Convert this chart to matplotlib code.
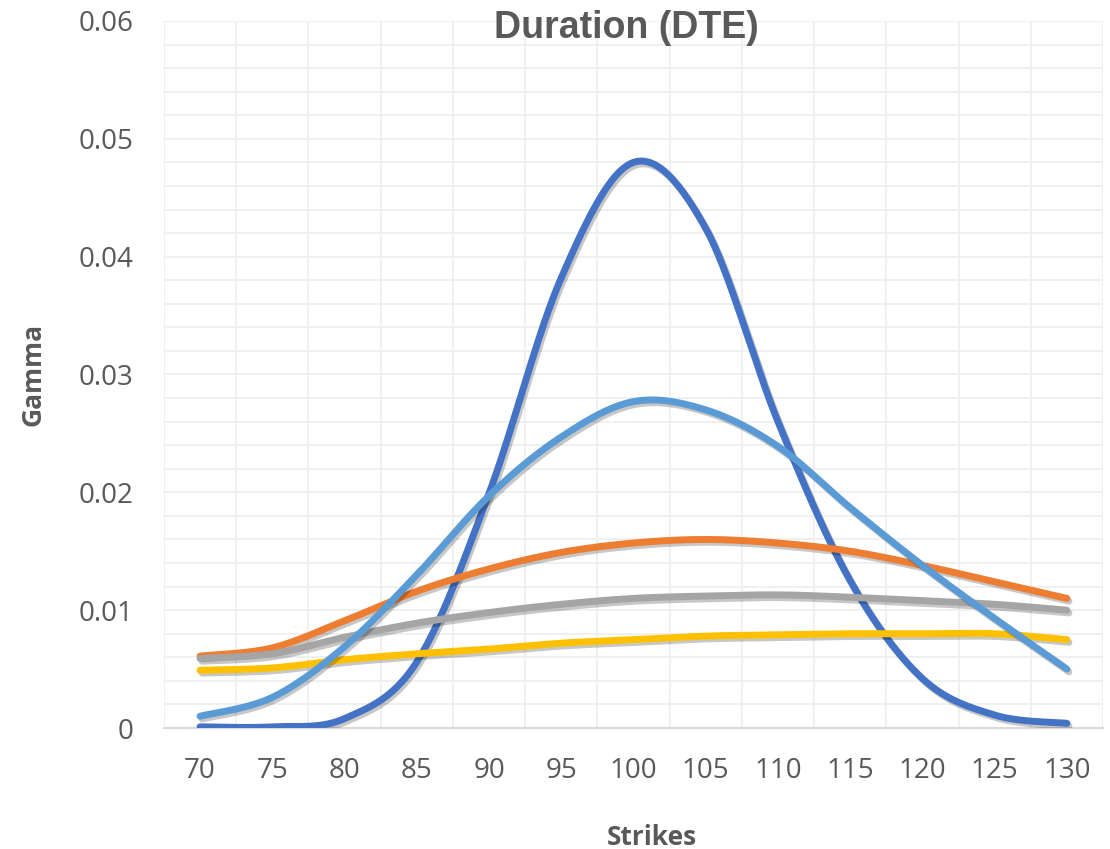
import numpy as np
import matplotlib.pyplot as plt
import matplotlib.patheffects as pe

strikes = [70, 75, 80, 85, 90, 95, 100, 105, 110, 115, 120, 125, 130]

gamma_blue = [0.0001, 0.0001, 0.0008, 0.0056, 0.0199, 0.0382, 0.0480, 0.0424,
              0.0260, 0.0125, 0.0042, 0.0011, 0.0004]
gamma_orange = [0.0061, 0.0068, 0.0091, 0.0116, 0.0135, 0.0149, 0.0157, 0.0160,
                0.0157, 0.0150, 0.0138, 0.0124, 0.0110]
gamma_gray = [0.0059, 0.0063, 0.0077, 0.0089, 0.0098, 0.0105, 0.0110, 0.0112,
              0.0113, 0.0111, 0.0108, 0.0105, 0.0100]
gamma_yellow = [0.0049, 0.0051, 0.0058, 0.0063, 0.0067, 0.0072, 0.0075, 0.0078,
                0.0079, 0.0080, 0.0080, 0.0080, 0.0075]
gamma_lightblue = [0.0010, 0.0026, 0.0069, 0.0130, 0.0197, 0.0247, 0.0277, 0.0270,
                   0.0239, 0.0187, 0.0138, 0.0093, 0.0050]

series = [
    (gamma_blue, '#4472C4'),
    (gamma_orange, '#ED7D31'),
    (gamma_gray, '#A5A5A5'),
    (gamma_yellow, '#FFC000'),
    (gamma_lightblue, '#5B9BD5'),
]


def smooth(xs, ys, n=30):
    # excel-like smoothing: cubic bezier with catmull-rom control points
    p = np.column_stack([xs, ys]).astype(float)
    p = np.vstack([p[0], p, p[-1]])
    out = []
    t = np.linspace(0, 1, n)[:, None]
    for i in range(1, len(p) - 2):
        p0, p1, p2, p3 = p[i - 1], p[i], p[i + 1], p[i + 2]
        c1 = p1 + (p2 - p0) / 6
        c2 = p2 - (p3 - p1) / 6
        seg = ((1 - t) ** 3) * p1 + 3 * ((1 - t) ** 2) * t * c1 + 3 * (1 - t) * t ** 2 * c2 + t ** 3 * p2
        out.append(seg if i == 1 else seg[1:])
    out = np.vstack(out)
    return out[:, 0], out[:, 1]


plt.rcParams['font.family'] = ['Open Sans', 'DejaVu Sans']
txt = '#595959'

fig = plt.figure(figsize=(11.1, 8.49), dpi=100)
ax = fig.add_axes([0.1477, 0.1425, 0.846, 0.8328])

for ys, col in series:
    sx, sy = smooth(strikes, ys)
    ax.plot(sx, sy, color=col, lw=5, solid_capstyle='round', zorder=3,
            path_effects=[pe.SimpleLineShadow(offset=(1.5, -2), shadow_color='k', alpha=0.22),
                          pe.Normal()])

ax.set_xlim(67.5, 132.5)
ax.set_ylim(0, 0.06)
ax.set_xticks(strikes)
ax.set_xticklabels([str(s) for s in strikes])
ax.set_xticks(np.arange(67.5, 133, 2.5), minor=True)
ax.set_yticks(np.arange(0, 0.061, 0.01))
ax.set_yticklabels(['0', '0.01', '0.02', '0.03', '0.04', '0.05', '0.06'])
ax.set_yticks(np.arange(0, 0.0601, 0.002), minor=True)

ax.grid(which='minor', axis='both', color='#efefef', lw=1.3, zorder=0)
ax.grid(which='major', axis='y', color='#efefef', lw=1.3, zorder=0)
ax.set_axisbelow(True)

for s in ['top', 'right', 'left']:
    ax.spines[s].set_visible(False)
ax.spines['bottom'].set_color('#d9d9d9')
ax.spines['bottom'].set_linewidth(1.5)

ax.tick_params(which='both', length=0)
ax.tick_params(axis='x', pad=21, labelsize=20, labelcolor=txt)
ax.tick_params(axis='y', pad=22, labelsize=20, labelcolor=txt)

fig.text(626 / 1110, 1 - 38 / 849, 'Duration (DTE)', ha='center', va='baseline',
         fontsize=27, fontweight='bold', color=txt,
         family=['Liberation Sans', 'DejaVu Sans'])
fig.text(652 / 1110, 1 - 845 / 849, 'Strikes', ha='center', va='baseline',
         fontsize=19, fontweight='bold', color=txt)
fig.text(33 / 1110, 1 - 374 / 849, 'Gamma', ha='center', va='center', rotation=90,
         fontsize=19, fontweight='bold', color=txt)

fig.savefig('out.png', dpi=100)
